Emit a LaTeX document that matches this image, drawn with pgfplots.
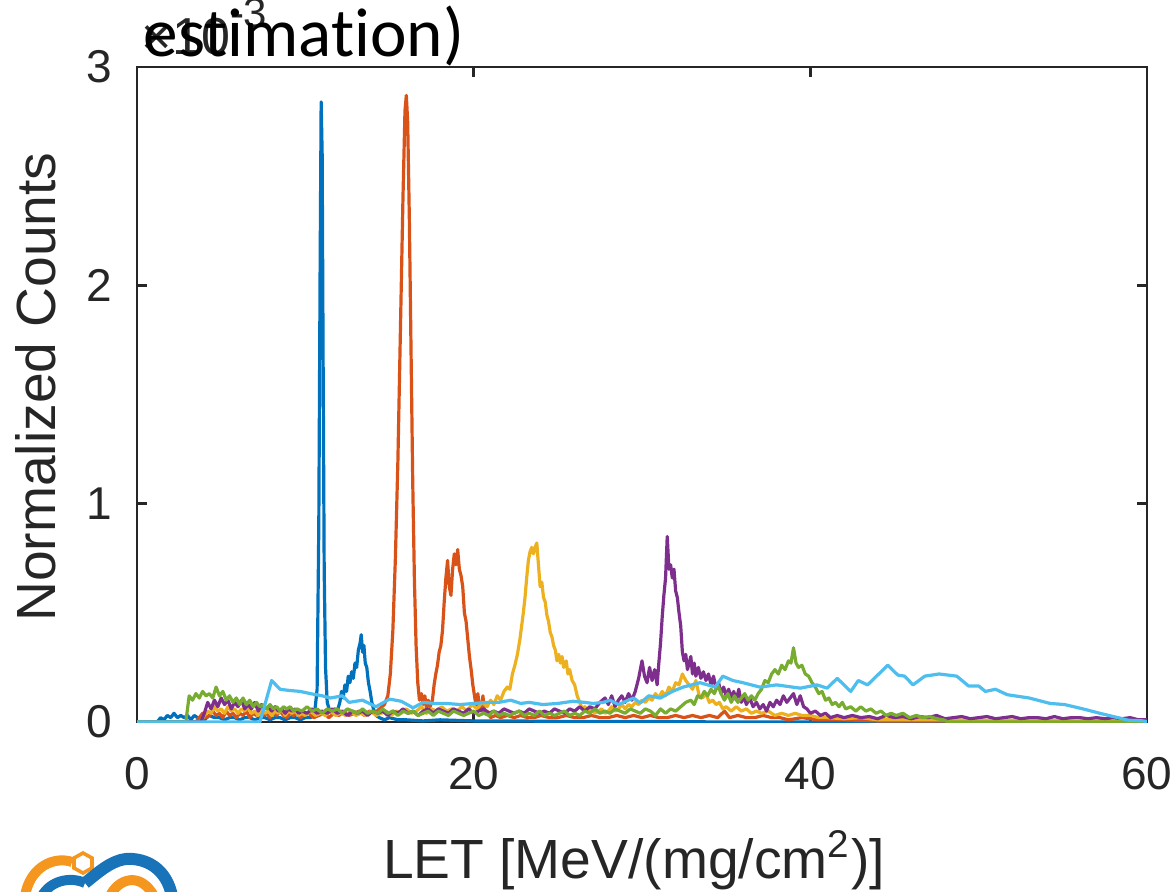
\documentclass[border=0pt]{standalone}
\usepackage{fontspec}
\setmainfont{Liberation Sans}
\newfontfamily\calibri[Ligatures=NoCommon]{Carlito}
\usepackage{pgfplots}
\pgfplotsset{compat=1.18}
\usepackage{xcolor}

\definecolor{mblue}{RGB}{0,114,189}
\definecolor{morange}{RGB}{217,83,25}
\definecolor{myellow}{RGB}{237,177,32}
\definecolor{mpurple}{RGB}{126,47,142}
\definecolor{mgreen}{RGB}{119,172,48}
\definecolor{mcyan}{RGB}{77,190,238}
\definecolor{axgray}{RGB}{38,38,38}
\definecolor{logoorange}{RGB}{245,150,30}
\definecolor{logoblue}{RGB}{25,115,185}

\begin{document}
% 1 px of the reference = 0.25pt
\begin{tikzpicture}[x=0.25pt,y=0.25pt]
\useasboundingbox (0,0) rectangle (1176,891);

\begin{axis}[
    at={(34.25pt,42.25pt)}, anchor=south west,
    scale only axis, width=252.5pt, height=163.75pt,
    xmin=0, xmax=60, ymin=0, ymax=3,
    xtick={0,20,40,60}, ytick={0,1,2,3},
    xtick pos=both, ytick pos=both,
    xticklabel pos=lower, yticklabel pos=left,
    tick align=inside, major tick length=2.5pt,
    minor tick num=0,
    axis line style={line width=0.7pt, color=axgray},
    every tick/.style={line width=0.7pt, color=axgray},
    ticklabel style={font=\fontsize{11.5}{12}\selectfont, text=axgray},
    xticklabel style={yshift=-5.25pt},
    yticklabel style={xshift=-2.75pt},
    /pgf/number format/assume math mode=true,
    every axis plot/.append style={line width=0.8pt, line join=round},
  ]
  % blue
  \addplot[mblue] coordinates {
    (0,0) (1.2,0) (1.4,0.02) (1.6,0.01) (1.8,0.03) (2.0,0.02) (2.2,0.04) (2.4,0.02) (2.6,0.03) (2.8,0.02)
    (3.0,0.03) (3.2,0.01) (3.4,0.03) (3.6,0.02) (3.8,0.02) (4.0,0.01) (4.3,0.03) (4.6,0.02) (4.9,0.02)
    (5.2,0.01) (5.5,0.02) (5.8,0.02) (6.1,0.01) (6.4,0.02) (6.7,0.02) (7.0,0.01) (7.3,0.02) (7.6,0.02)
    (7.9,0.01) (8.2,0.02) (8.5,0.02) (8.8,0.01) (9.1,0.02) (9.4,0.02) (9.7,0.01) (10.0,0.02) (10.3,0.02)
    (10.55,0.04) (10.7,0.15) (10.8,0.9) (10.88,2.1) (10.94,2.84) (11.0,2.6) (11.06,1.6) (11.12,0.7)
    (11.2,0.25) (11.3,0.09) (11.45,0.05) (11.6,0.04) (11.75,0.06) (11.9,0.05) (12.05,0.09) (12.15,0.14)
    (12.25,0.11) (12.35,0.17) (12.45,0.14) (12.55,0.21) (12.65,0.18) (12.75,0.23) (12.85,0.20) (12.95,0.27)
    (13.05,0.25) (13.15,0.33) (13.25,0.36) (13.32,0.40) (13.4,0.32) (13.48,0.35) (13.56,0.27) (13.65,0.25)
    (13.75,0.18) (13.85,0.14) (13.95,0.09) (14.05,0.06) (14.2,0.03) (14.4,0.02) (14.7,0.01) (15.0,0.02)
    (15.5,0.01) (16,0.01) (17,0.005) (18,0.01) (20,0.005) (22,0.005) (25,0.003) (30,0.003) (35,0) (60,0)
  };
  % orange
  \addplot[morange] coordinates {
    (0,0) (3.5,0) (3.7,0.02) (3.9,0.04) (4.1,0.02) (4.3,0.03) (4.5,0.05) (4.7,0.03) (4.9,0.04) (5.1,0.02)
    (5.3,0.05) (5.5,0.03) (5.7,0.04) (5.9,0.02) (6.1,0.04) (6.3,0.03) (6.5,0.05) (6.7,0.02) (6.9,0.04)
    (7.1,0.03) (7.3,0.05) (7.5,0.03) (7.7,0.04) (7.9,0.02) (8.1,0.04) (8.3,0.03) (8.5,0.05) (8.7,0.03)
    (8.9,0.02) (9.1,0.04) (9.3,0.03) (9.5,0.04) (9.7,0.02) (9.9,0.03) (10.2,0.04) (10.5,0.02) (10.8,0.03)
    (11.1,0.04) (11.4,0.02) (11.7,0.04) (12.0,0.03) (12.3,0.05) (12.6,0.03) (12.9,0.04) (13.2,0.05)
    (13.5,0.03) (13.8,0.05) (14.1,0.04) (14.4,0.06) (14.7,0.08) (14.9,0.12) (15.05,0.22) (15.2,0.42)
    (15.35,0.75) (15.5,1.2) (15.65,1.8) (15.8,2.4) (15.92,2.8) (16.0,2.87) (16.08,2.75) (16.18,2.3)
    (16.28,1.7) (16.38,1.1) (16.48,0.65) (16.58,0.35) (16.68,0.18) (16.78,0.10) (16.9,0.13) (17.0,0.08)
    (17.1,0.12) (17.2,0.06) (17.3,0.10) (17.42,0.07) (17.55,0.10) (17.65,0.17) (17.75,0.22) (17.85,0.26)
    (17.95,0.32) (18.05,0.35) (18.15,0.42) (18.25,0.55) (18.35,0.66) (18.45,0.74) (18.55,0.62) (18.65,0.58)
    (18.75,0.70) (18.85,0.77) (18.95,0.72) (19.05,0.79) (19.15,0.70) (19.25,0.67) (19.35,0.62) (19.45,0.50)
    (19.55,0.46) (19.65,0.38) (19.75,0.30) (19.85,0.24) (19.95,0.17) (20.05,0.12) (20.15,0.07) (20.25,0.13)
    (20.35,0.06) (20.45,0.05) (20.55,0.12) (20.65,0.04) (20.8,0.05) (21.0,0.02) (21.3,0.03) (21.6,0.02)
    (22.0,0.03) (22.4,0.02) (22.8,0.03) (23.2,0.02) (23.6,0.02) (24.0,0.03) (24.5,0.02) (25.0,0.02)
    (25.5,0.03) (26.0,0.02) (26.5,0.02) (27.0,0.03) (27.5,0.02) (28.0,0.02) (28.5,0.03) (29.0,0.02)
    (29.5,0.03) (30.0,0.02) (30.5,0.03) (31.0,0.02) (31.5,0.02) (32.0,0.03) (32.5,0.02) (33.0,0.03)
    (33.5,0.02) (34.0,0.03) (34.5,0.02) (34.9,0.05) (35.2,0.02) (35.7,0.03) (36.2,0.02) (36.7,0.02)
    (37.2,0.03) (37.7,0.02) (38.2,0.02) (38.7,0.01) (39.5,0.02) (40.5,0.01) (42,0.01) (44,0.005)
    (47,0.005) (50,0.005) (55,0.003) (60,0.003)
  };
  % yellow
  \addplot[myellow] coordinates {
    (0,0) (3.8,0) (4.0,0.03) (4.2,0.05) (4.4,0.04) (4.6,0.07) (4.8,0.05) (5.0,0.06) (5.2,0.04) (5.4,0.07)
    (5.6,0.05) (5.8,0.06) (6.0,0.04) (6.2,0.06) (6.4,0.05) (6.6,0.07) (6.8,0.04) (7.0,0.05) (7.2,0.03)
    (7.4,0.06) (7.6,0.04) (7.8,0.05) (8.0,0.03) (8.2,0.05) (8.4,0.04) (8.6,0.06) (8.8,0.03) (9.0,0.05)
    (9.2,0.04) (9.4,0.05) (9.6,0.03) (9.8,0.04) (10.0,0.03) (10.3,0.05) (10.6,0.03) (10.9,0.04) (11.2,0.03)
    (11.5,0.05) (11.8,0.03) (12.1,0.04) (12.4,0.03) (12.7,0.05) (13.0,0.03) (13.3,0.04) (13.6,0.03)
    (13.9,0.05) (14.2,0.03) (14.5,0.04) (14.8,0.05) (15.1,0.03) (15.4,0.05) (15.7,0.04) (16.0,0.06)
    (16.3,0.04) (16.6,0.05) (16.9,0.07) (17.2,0.04) (17.5,0.06) (17.8,0.05) (18.1,0.07) (18.4,0.05)
    (18.7,0.06) (19.0,0.05) (19.3,0.07) (19.6,0.05) (19.9,0.08) (20.2,0.06) (20.5,0.09) (20.8,0.07)
    (21.0,0.10) (21.2,0.08) (21.4,0.12) (21.6,0.10) (21.8,0.14) (22.0,0.16) (22.15,0.15) (22.3,0.22)
    (22.45,0.26) (22.6,0.31) (22.75,0.38) (22.85,0.44) (22.95,0.50) (23.05,0.57) (23.15,0.66) (23.25,0.74)
    (23.35,0.78) (23.45,0.80) (23.55,0.77) (23.65,0.80) (23.75,0.82) (23.85,0.72) (23.95,0.62) (24.05,0.64)
    (24.15,0.57) (24.25,0.55) (24.35,0.49) (24.45,0.46) (24.55,0.41) (24.65,0.39) (24.75,0.35) (24.85,0.33)
    (24.95,0.28) (25.05,0.31) (25.15,0.27) (25.25,0.30) (25.35,0.25) (25.5,0.28) (25.6,0.22) (25.7,0.24)
    (25.85,0.19) (26.0,0.17) (26.15,0.12) (26.3,0.09) (26.45,0.06) (26.6,0.07) (26.8,0.05) (27.0,0.06)
    (27.2,0.04) (27.4,0.05) (27.6,0.06) (27.8,0.04) (28.0,0.05) (28.2,0.07) (28.4,0.05) (28.6,0.06)
    (28.8,0.08) (29.0,0.06) (29.2,0.08) (29.4,0.07) (29.6,0.09) (29.8,0.08) (30.0,0.10) (30.2,0.09)
    (30.4,0.11) (30.6,0.10) (30.8,0.13) (31.0,0.11) (31.2,0.14) (31.4,0.12) (31.6,0.16) (31.8,0.14)
    (32.0,0.18) (32.2,0.17) (32.4,0.22) (32.6,0.19) (32.8,0.17) (33.0,0.15) (33.2,0.19) (33.4,0.12)
    (33.6,0.11) (33.8,0.13) (34.0,0.09) (34.2,0.10) (34.4,0.08) (34.6,0.09) (34.8,0.06) (35.0,0.07)
    (35.3,0.05) (35.6,0.07) (35.9,0.05) (36.2,0.06) (36.5,0.04) (36.8,0.05) (37.1,0.04) (37.5,0.05)
    (37.9,0.03) (38.3,0.04) (38.7,0.03) (39.1,0.04) (39.5,0.03) (40.0,0.03) (40.5,0.02) (41,0.02)
    (42,0.015) (43,0.02) (44,0.01) (46,0.01) (48,0.01) (50,0.008) (53,0.008) (56,0.005) (60,0.005)
  };
  % purple
  \addplot[mpurple] coordinates {
    (0,0) (3.8,0) (4.0,0.04) (4.2,0.09) (4.4,0.06) (4.6,0.10) (4.8,0.07) (5.0,0.11) (5.2,0.08) (5.4,0.10)
    (5.6,0.06) (5.8,0.09) (6.0,0.07) (6.2,0.10) (6.4,0.06) (6.6,0.08) (6.8,0.06) (7.0,0.09) (7.2,0.05)
    (7.4,0.08) (7.6,0.06) (7.8,0.07) (8.0,0.05) (8.2,0.07) (8.4,0.05) (8.6,0.06) (8.8,0.04) (9.0,0.06)
    (9.2,0.05) (9.4,0.06) (9.6,0.04) (9.8,0.05) (10.1,0.04) (10.4,0.06) (10.7,0.04) (11.0,0.05) (11.3,0.04)
    (11.6,0.06) (11.9,0.04) (12.2,0.05) (12.5,0.03) (12.8,0.05) (13.1,0.04) (13.4,0.05) (13.7,0.03)
    (14.0,0.05) (14.3,0.04) (14.6,0.05) (14.9,0.03) (15.2,0.05) (15.5,0.04) (15.8,0.06) (16.1,0.04)
    (16.4,0.05) (16.7,0.03) (17.0,0.05) (17.3,0.06) (17.6,0.04) (17.9,0.06) (18.2,0.05) (18.5,0.04)
    (18.8,0.06) (19.1,0.05) (19.4,0.04) (19.7,0.06) (20.0,0.04) (20.3,0.05) (20.6,0.06) (20.9,0.04)
    (21.2,0.05) (21.5,0.04) (21.8,0.06) (22.1,0.05) (22.4,0.04) (22.7,0.05) (23.0,0.04) (23.3,0.06)
    (23.6,0.05) (23.9,0.04) (24.2,0.05) (24.5,0.04) (24.8,0.06) (25.1,0.05) (25.4,0.04) (25.7,0.06)
    (26.0,0.05) (26.3,0.07) (26.6,0.05) (26.9,0.07) (27.2,0.06) (27.5,0.09) (27.8,0.11) (28.0,0.08)
    (28.2,0.12) (28.4,0.07) (28.6,0.10) (28.8,0.12) (29.0,0.09) (29.2,0.13) (29.4,0.10) (29.6,0.14)
    (29.8,0.20) (30.0,0.28) (30.15,0.21) (30.3,0.18) (30.45,0.25) (30.6,0.19) (30.75,0.24) (30.9,0.17)
    (31.0,0.27) (31.1,0.36) (31.2,0.48) (31.3,0.58) (31.4,0.66) (31.5,0.85) (31.6,0.70) (31.7,0.72)
    (31.8,0.66) (31.9,0.70) (32.0,0.60) (32.1,0.57) (32.2,0.50) (32.3,0.44) (32.4,0.32) (32.5,0.28)
    (32.6,0.31) (32.7,0.24) (32.8,0.27) (32.9,0.30) (33.0,0.22) (33.1,0.27) (33.2,0.21) (33.35,0.25)
    (33.5,0.20) (33.65,0.23) (33.8,0.19) (33.95,0.22) (34.1,0.17) (34.25,0.21) (34.4,0.15) (34.55,0.18)
    (34.7,0.13) (34.85,0.16) (35.0,0.12) (35.15,0.15) (35.3,0.11) (35.45,0.14) (35.6,0.10) (35.75,0.15)
    (35.9,0.09) (36.05,0.12) (36.2,0.08) (36.4,0.11) (36.6,0.07) (36.8,0.09) (37.0,0.06) (37.2,0.08)
    (37.4,0.05) (37.6,0.09) (37.8,0.07) (38.0,0.10) (38.2,0.08) (38.4,0.12) (38.6,0.09) (38.8,0.11)
    (39.0,0.13) (39.2,0.08) (39.4,0.12) (39.6,0.07) (39.8,0.06) (40.0,0.04) (40.3,0.05) (40.6,0.03)
    (40.9,0.04) (41.2,0.02) (41.6,0.03) (42.0,0.02) (42.5,0.03) (43.0,0.02) (43.5,0.025) (44.0,0.015)
    (44.5,0.03) (45.0,0.02) (45.5,0.025) (46.0,0.015) (46.5,0.025) (47.0,0.02) (47.5,0.03) (48.0,0.015)
    (48.5,0.02) (49.0,0.025) (49.5,0.015) (50.0,0.02) (50.5,0.025) (51.0,0.015) (51.5,0.02) (52.0,0.025)
    (52.5,0.015) (53.0,0.02) (53.5,0.02) (54.0,0.015) (54.5,0.025) (55.0,0.015) (55.5,0.02) (56.0,0.02)
    (56.5,0.015) (57.0,0.02) (57.5,0.015) (58.0,0.02) (58.5,0.015) (59.0,0.02) (59.5,0.01) (60.0,0.01)
  };
  % green
  \addplot[mgreen] coordinates {
    (0,0) (2.9,0) (3.0,0.06) (3.1,0.12) (3.3,0.10) (3.5,0.13) (3.7,0.11) (3.9,0.14) (4.1,0.12) (4.3,0.13)
    (4.5,0.11) (4.7,0.16) (4.9,0.12) (5.1,0.14) (5.3,0.10) (5.5,0.12) (5.7,0.09) (5.9,0.11) (6.1,0.08)
    (6.3,0.11) (6.5,0.08) (6.7,0.10) (6.9,0.07) (7.1,0.09) (7.3,0.07) (7.5,0.08) (7.7,0.06) (7.9,0.08)
    (8.1,0.06) (8.3,0.07) (8.5,0.05) (8.7,0.07) (8.9,0.06) (9.1,0.07) (9.3,0.05) (9.5,0.06) (9.8,0.05)
    (10.1,0.07) (10.4,0.05) (10.7,0.06) (11.0,0.04) (11.3,0.06) (11.6,0.05) (11.9,0.06) (12.2,0.04)
    (12.5,0.06) (12.8,0.05) (13.1,0.04) (13.4,0.06) (13.7,0.04) (14.0,0.05) (14.3,0.04) (14.6,0.06)
    (14.9,0.04) (15.2,0.05) (15.5,0.03) (15.8,0.05) (16.1,0.04) (16.4,0.05) (16.7,0.03) (17.0,0.04)
    (17.3,0.05) (17.6,0.03) (17.9,0.05) (18.2,0.04) (18.5,0.03) (18.8,0.05) (19.1,0.04) (19.4,0.03)
    (19.7,0.04) (20.0,0.05) (20.3,0.03) (20.6,0.04) (20.9,0.03) (21.2,0.05) (21.5,0.03) (21.8,0.04)
    (22.1,0.03) (22.4,0.04) (22.7,0.05) (23.0,0.03) (23.3,0.04) (23.6,0.03) (23.9,0.05) (24.2,0.03)
    (24.5,0.04) (24.8,0.03) (25.1,0.04) (25.4,0.05) (25.7,0.03) (26.0,0.04) (26.3,0.03) (26.6,0.05)
    (26.9,0.04) (27.2,0.06) (27.5,0.04) (27.8,0.05) (28.1,0.04) (28.4,0.06) (28.7,0.05) (29.0,0.04)
    (29.3,0.06) (29.6,0.05) (29.9,0.04) (30.2,0.06) (30.5,0.05) (30.8,0.03) (31.1,0.06) (31.4,0.04)
    (31.7,0.06) (32.0,0.05) (32.3,0.07) (32.6,0.09) (32.9,0.10) (33.1,0.08) (33.3,0.12) (33.5,0.11)
    (33.7,0.14) (33.9,0.12) (34.1,0.15) (34.3,0.13) (34.5,0.17) (34.7,0.13) (34.9,0.10) (35.1,0.13)
    (35.3,0.09) (35.5,0.12) (35.7,0.09) (35.9,0.11) (36.1,0.13) (36.3,0.10) (36.5,0.12) (36.7,0.10)
    (36.9,0.13) (37.1,0.15) (37.3,0.19) (37.5,0.18) (37.7,0.22) (37.9,0.24) (38.1,0.22) (38.3,0.26)
    (38.5,0.24) (38.7,0.28) (38.85,0.27) (39.0,0.34) (39.15,0.27) (39.3,0.25) (39.5,0.26) (39.7,0.22)
    (39.9,0.21) (40.1,0.18) (40.3,0.16) (40.5,0.13) (40.7,0.14) (40.9,0.10) (41.1,0.11) (41.3,0.08)
    (41.5,0.09) (41.7,0.07) (41.9,0.09) (42.1,0.06) (42.4,0.07) (42.7,0.05) (43.0,0.07) (43.3,0.05)
    (43.6,0.06) (43.9,0.04) (44.2,0.05) (44.5,0.03) (44.8,0.04) (45.1,0.03) (45.5,0.04) (45.9,0.02)
    (46.3,0.03) (46.7,0.02) (47.1,0.025) (47.5,0.015) (47.9,0.01) (48.2,0) (60,0)
  };
  % light blue
  \addplot[mcyan] coordinates {
    (0,0) (7.3,0) (7.6,0.08) (8.0,0.19) (8.5,0.15) (9.0,0.145) (9.7,0.14) (10.3,0.13) (11.0,0.12)
    (11.5,0.11) (12.2,0.12) (12.6,0.09) (13.4,0.10) (14.2,0.07) (15.0,0.105) (15.7,0.095) (16.4,0.065)
    (17.0,0.09) (17.7,0.085) (18.4,0.085) (19.2,0.08) (20.0,0.085) (20.8,0.09) (21.5,0.09) (22.2,0.10)
    (22.8,0.085) (23.3,0.09) (24.1,0.08) (25.0,0.085) (25.9,0.095) (26.6,0.09) (27.1,0.085) (27.7,0.09)
    (28.1,0.10) (28.6,0.08) (29.5,0.11) (29.9,0.087) (30.4,0.12) (31.1,0.11) (31.8,0.14) (32.45,0.16)
    (33.45,0.18) (34.35,0.16) (34.8,0.21) (35.4,0.19) (36.0,0.18) (37.0,0.16) (38.0,0.17) (39.4,0.155)
    (40.4,0.17) (41.0,0.155) (41.6,0.20) (42.4,0.14) (42.85,0.19) (43.4,0.17) (44.6,0.26) (45.2,0.215)
    (45.6,0.21) (46.1,0.17) (46.8,0.21) (47.65,0.22) (48.7,0.21) (49.4,0.165) (50.0,0.165) (50.4,0.14)
    (51.0,0.15) (51.7,0.125) (53.0,0.11) (54.25,0.085) (55.1,0.08) (56.2,0.06) (57.2,0.04) (58.0,0.025)
    (58.9,0.008) (59.8,0.005) (60,0)
  };
\end{axis}

% exponent label and cut-off title
\node[anchor=base west, inner sep=0pt, text=axgray] at (141,836)
  {\fontsize{13}{13}\selectfont ×10\raisebox{6.75pt}{\fontsize{10.5}{10.5}\selectfont -3}};
\node[anchor=base west, inner sep=0pt] at (143,834)
  {\calibri\fontsize{17.3}{17.3}\selectfont estimation)};

% axis labels
\node[anchor=base, inner sep=0pt, text=axgray] at (634,13)
  {\fontsize{13.8}{14}\selectfont LET [MeV/(mg/cm\textsuperscript{2})]};
\node[anchor=base, rotate=90, inner sep=0pt, text=axgray] at (55,504)
  {\fontsize{13.8}{14}\selectfont Normalized Counts};

% logo, cut by the lower edge
\draw[logoorange, line width=2.5pt] (25,-5) .. controls (30,25) and (55,35) .. (72,29);
\draw[logoorange, line width=0.9pt] (83,38) -- (92,33) -- (92,23) -- (83,18) -- (74,23) -- (74,33) -- cycle;
\draw[logoblue, line width=3pt] (85,8) .. controls (100,20) and (115,34) .. (133,32)
  .. controls (155,30) and (168,15) .. (172,-5);
\draw[logoblue, line width=2.5pt] (42,-5) .. controls (50,10) and (70,15) .. (85,8);
\draw[logoorange, line width=2.5pt] (110,-5) .. controls (118,12) and (140,20) .. (154,-5);
\end{tikzpicture}
\end{document}
